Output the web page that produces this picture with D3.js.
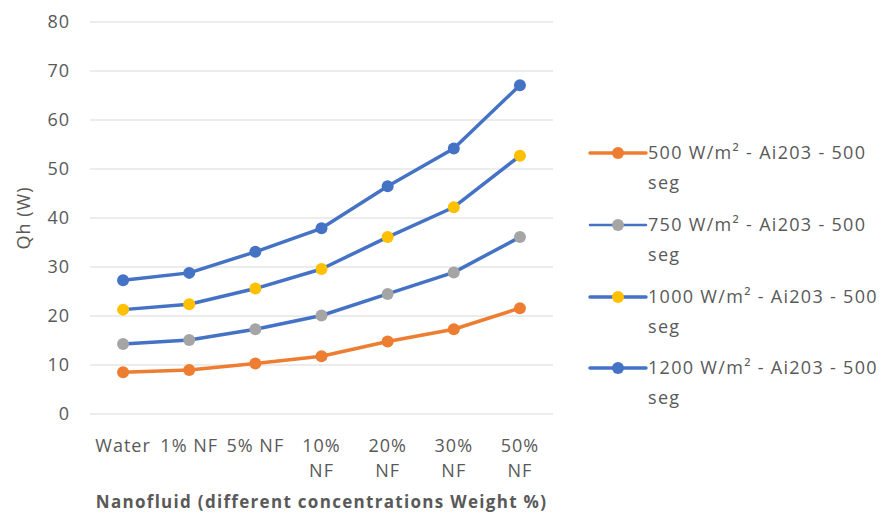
<!DOCTYPE html>
<html><head><meta charset="utf-8">
<script src="https://cdn.jsdelivr.net/npm/d3@7"></script>
<style>body{margin:0;background:#fff}svg{display:block}text{font-family:"Open Sans",sans-serif;fill:#595959}</style>
</head><body><svg id="c" width="887" height="522"></svg>
<script>
const categories = ["Water","1% NF","5% NF","10% NF","20% NF","30% NF","50% NF"];
const yTicks = [0,10,20,30,40,50,60,70,80];
const s500  = [8.5, 9.0, 10.3, 11.8, 14.8, 17.3, 21.6];
const s750  = [14.3, 15.1, 17.3, 20.1, 24.5, 28.9, 36.1];
const s1000 = [21.3, 22.4, 25.6, 29.6, 36.1, 42.2, 52.7];
const s1200 = [27.3, 28.8, 33.1, 37.9, 46.5, 54.2, 67.1];
const seriesNames = ["500 W/m² - Ai203 - 500 seg","750 W/m² - Ai203 - 500 seg","1000 W/m² - Ai203 - 500 seg","1200 W/m² - Ai203 - 500 seg"];
const lineColors = ["#ED7D31","#4472C4","#4472C4","#4472C4"];
const markerColors = ["#ED7D31","#A5A5A5","#FFC000","#4472C4"];
const xTitle = "Nanofluid (different concentrations Weight %)";
const yTitle = "Qh (W)";

const series = [s500, s750, s1000, s1200].map((v,i)=>({name:seriesNames[i], values:v, line:lineColors[i], marker:markerColors[i]}));

const svg = d3.select("#c");
const L = 90, R = 553, T = 22, B = 414;
const x = d3.scaleBand().domain(categories).range([L,R]);
const y = d3.scaleLinear().domain([0,80]).range([B,T]);

// gridlines
svg.append("g").selectAll("line").data(yTicks).join("line")
  .attr("x1",L).attr("x2",R).attr("y1",d=>y(d)).attr("y2",d=>y(d))
  .attr("stroke","#d9d9d9").attr("stroke-width",1);

// y axis labels
const yAxis = d3.axisLeft(y).tickValues(yTicks).tickSize(0).tickPadding(20);
const gy = svg.append("g").attr("transform",`translate(${L},0)`).call(yAxis);
gy.select(".domain").remove();
gy.selectAll("text").style("font-size","18px").style("letter-spacing","1px").attr("fill","#595959").style("font-family","'Open Sans',sans-serif");

// x axis labels
const xAxis = d3.axisBottom(x).tickSize(0).tickPadding(0);
const gx = svg.append("g").attr("transform",`translate(0,${B})`).call(xAxis);
gx.select(".domain").remove();
gx.selectAll("text").style("font-size","18px").style("letter-spacing","1px").attr("fill","#595959").style("font-family","'Open Sans',sans-serif")
  .each(function(d){
    const t = d3.select(this); t.text(null).attr("y",0).attr("dy",null);
    const parts = d.length > 5 ? d.split(" ") : [d];
    parts.forEach((p,i)=>t.append("tspan").attr("x",0).attr("y",38 + i*25).text(p));
  });

// lines
const line = d3.line().x((d,i)=>x(categories[i])+x.bandwidth()/2).y(d=>y(d));
series.forEach(s=>{
  svg.append("path").datum(s.values).attr("d",line).attr("fill","none")
    .attr("stroke",s.line).attr("stroke-width",3.5).attr("stroke-linejoin","round").attr("stroke-linecap","round");
  svg.append("g").selectAll("circle").data(s.values).join("circle")
    .attr("cx",(d,i)=>x(categories[i])+x.bandwidth()/2).attr("cy",d=>y(d)).attr("r",6)
    .attr("fill",s.marker);
});

// axis titles
svg.append("text").attr("transform",`translate(30,${(T+B)/2}) rotate(-90)`).attr("text-anchor","middle")
  .style("font-size","18px").style("letter-spacing","1px").text(yTitle);
svg.append("text").attr("x",(L+R)/2).attr("y",508).attr("text-anchor","middle")
  .style("font-size","17px").style("letter-spacing","1.3px").style("font-weight","bold").text(xTitle);

// legend
const lg = svg.append("g");
const rowY = [153,225,297,368];
series.forEach((s,i)=>{
  const g = lg.append("g").attr("transform",`translate(0,${rowY[i]})`);
  g.append("line").attr("x1",590).attr("x2",646).attr("y1",0).attr("y2",0)
    .attr("stroke",s.line).attr("stroke-width",i===1?2.5:3.5).attr("stroke-linecap","round");
  g.append("circle").attr("cx",618).attr("cy",0).attr("r",6).attr("fill",s.marker);
  const words = s.name.split(" ");
  const t = g.append("text").style("font-size","18px").style("letter-spacing","1.3px");
  t.append("tspan").attr("x",648).attr("y",6).text(words.slice(0,-1).join(" "));
  t.append("tspan").attr("x",648).attr("y",36).text(words[words.length-1]);
});
</script></body></html>
